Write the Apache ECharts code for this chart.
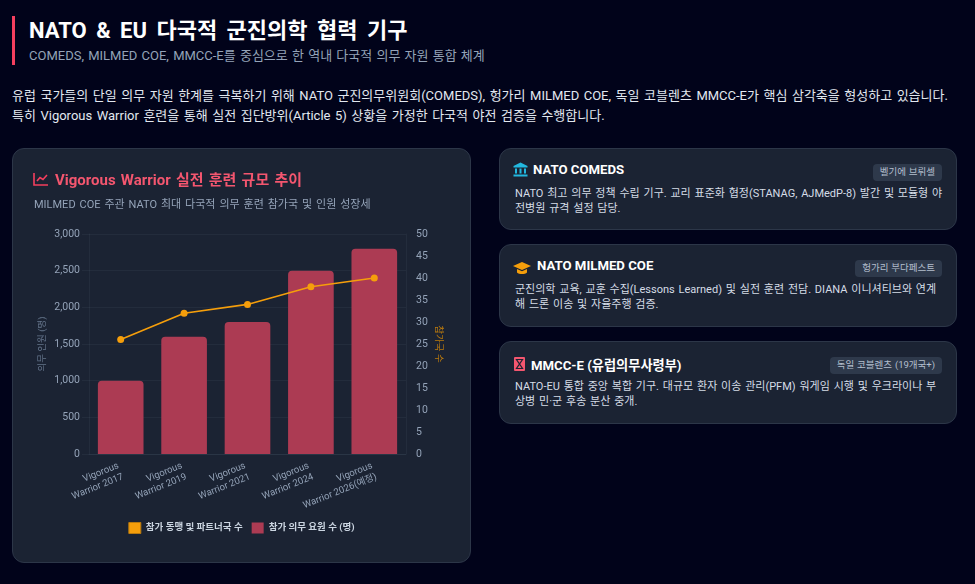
<!DOCTYPE html>
<html lang="ko"><head><meta charset="utf-8">
<script src="https://cdn.jsdelivr.net/npm/echarts@6/dist/echarts.min.js"></script>
<style>
*{box-sizing:border-box;margin:0;padding:0}
html,body{width:975px;height:584px;overflow:hidden;background:#01031a;font-family:Roboto,"Noto Sans CJK KR",sans-serif;color:#e2e8f0}
.abs{position:absolute;white-space:nowrap}
.box{position:absolute;background:#1b2333;border:1px solid #2c3648;border-radius:12px}
.badge{position:absolute;right:14px;height:17px;line-height:16px;background:#2e394b;border-radius:4px;padding:0 7px;font-size:9.5px;color:#b4bfce;white-space:nowrap;word-spacing:.5px}
.ctitle{position:absolute;top:13px;font-size:13.2px;font-weight:700;color:#fff;white-space:nowrap}
.cbody{position:absolute;left:15px;top:38px;font-size:11px;line-height:14.5px;color:#d5dce6;white-space:pre;word-spacing:1.1px}
svg.ic{position:absolute}
#chart{position:absolute;left:12px;top:148px;width:459px;height:415px}
</style></head><body>
<div class="abs" style="left:12px;top:16px;width:3px;height:49px;background:#f43f5e"></div>
<div class="abs" id="title" style="left:29px;top:16px;font-size:22px;line-height:30px;font-weight:700;color:#fff;word-spacing:4px"></div>
<div class="abs" id="sub" style="left:29px;top:46px;font-size:13px;line-height:20px;color:#94a3b8;word-spacing:1px"></div>
<div class="abs" id="p1" style="left:12px;top:86px;font-size:13px;line-height:20px;color:#e2e8f0;word-spacing:1.3px"></div>
<div class="abs" id="p2" style="left:12px;top:106px;font-size:13px;line-height:20px;color:#e2e8f0;word-spacing:1.3px"></div>

<div class="box" style="left:12px;top:148px;width:459px;height:415px"></div>
<div id="chart"></div>
<svg class="ic" style="left:33px;top:172px" width="16" height="14" viewBox="0 0 16 14" fill="none" stroke="#f43f5e" stroke-width="1.6"><path d="M1 1V13H15"/><path d="M4 9L7 5.5L10 7.5L14 3"/></svg>
<div class="abs" id="ctitle" style="left:55px;top:170px;font-size:15px;line-height:20px;font-weight:700;color:#f4566f;word-spacing:1.5px"></div>
<div class="abs" id="csub" style="left:34px;top:197px;font-size:11px;line-height:16px;color:#94a3b8;word-spacing:1.2px"></div>

<div class="box" style="left:499px;top:148px;width:458px;height:82px"><svg class="ic" style="left:13px;top:13px" width="15" height="15" viewBox="0 0 15 15" fill="#22b8e0"><path d="M7.5 0.5L14.5 4V5.5H0.5V4Z"/><rect x="2" y="6.5" width="2" height="5"/><rect x="6.5" y="6.5" width="2" height="5"/><rect x="11" y="6.5" width="2" height="5"/><rect x="0.5" y="12.5" width="14" height="2"/></svg><div class="ctitle" style="left:33px" data-t="0"></div><div class="badge" style="top:15px" data-b="0"></div><div class="cbody" data-d="0"></div></div>
<div class="box" style="left:499px;top:244px;width:458px;height:83px"><svg class="ic" style="left:13px;top:16px" width="18" height="14" viewBox="0 0 18 14" fill="#f59e0b"><path d="M9 1L18 5L9 9L0 5Z"/><path d="M4 8V11.5C6 13.5 12 13.5 14 11.5V8L9 10.2Z"/></svg><div class="ctitle" style="left:37px" data-t="1"></div><div class="badge" style="top:15px" data-b="1"></div><div class="cbody" data-d="1"></div></div>
<div class="box" style="left:499px;top:341px;width:458px;height:83px"><svg class="ic" style="left:14px;top:15px" width="11" height="14" viewBox="0 0 11 14"><rect width="11" height="14" rx="1" fill="#f4566f"/><path d="M2.5 2.5H8.5L2.5 11.5H8.5Z" fill="none" stroke="#1b2333" stroke-width="1.2"/></svg><div class="ctitle" style="left:31px" data-t="2"></div><div class="badge" style="top:15px" data-b="2"></div><div class="cbody" data-d="2"></div></div>

<script>
const categories = ["Vigorous\nWarrior 2017","Vigorous\nWarrior 2019","Vigorous\nWarrior 2021","Vigorous\nWarrior 2024","Vigorous\nWarrior 2026(예정)"];
const personnel = [1000,1600,1800,2500,2800];
const nations = [26,32,34,38,40];
const seriesNames = ["참가 동맹 및 파트너국 수","참가 의무 요원 수 (명)"];
const axisNames = ["의무 인원 (명)","참가국 수"];
const cardTitles = ["NATO COMEDS","NATO MILMED COE","MMCC-E (유럽의무사령부)"];
const cardBadges = ["벨기에 브뤼셀","헝가리 부다페스트","독일 코블렌츠 (19개국+)"];
const cardBodies = [
 "NATO 최고 의무 정책 수립 기구. 교리 표준화 협정(STANAG, AJMedP-8) 발간 및 모듈형 야\n전병원 규격 설정 담당.",
 "군진의학 교육, 교훈 수집(Lessons Learned) 및 실전 훈련 전담. DIANA 이니셔티브와 연계\n해 드론 이송 및 자율주행 검증.",
 "NATO-EU 통합 중앙 복합 기구. 대규모 환자 이송 관리(PFM) 워게임 시행 및 우크라이나 부\n상병 민·군 후송 분산 중개."];
const set=(id,t)=>document.getElementById(id).textContent=t;
set('title',"NATO & EU 다국적 군진의학 협력 기구");
set('sub',"COMEDS, MILMED COE, MMCC-E를 중심으로 한 역내 다국적 의무 자원 통합 체계");
set('p1',"유럽 국가들의 단일 의무 자원 한계를 극복하기 위해 NATO 군진의무위원회(COMEDS), 헝가리 MILMED COE, 독일 코블렌츠 MMCC-E가 핵심 삼각축을 형성하고 있습니다.");
set('p2',"특히 Vigorous Warrior 훈련을 통해 실전 집단방위(Article 5) 상황을 가정한 다국적 야전 검증을 수행합니다.");
set('ctitle',"Vigorous Warrior 실전 훈련 규모 추이");
set('csub',"MILMED COE 주관 NATO 최대 다국적 의무 훈련 참가국 및 인원 성장세");
document.querySelectorAll('[data-t]').forEach(e=>e.textContent=cardTitles[e.dataset.t]);
document.querySelectorAll('[data-b]').forEach(e=>e.textContent=cardBadges[e.dataset.b]);
document.querySelectorAll('[data-d]').forEach(e=>e.textContent=cardBodies[e.dataset.d]);

const FONT='Roboto,"Noto Sans CJK KR",sans-serif';
const faint='rgba(148,163,184,0.07)';
const chart=echarts.init(document.getElementById('chart'));
chart.setOption({
 animation:false,
 textStyle:{fontFamily:FONT},
 grid:{left:77,right:65,top:86,bottom:109},
 legend:{left:'center',top:369,itemWidth:12,itemHeight:11,itemGap:9,
   data:[{name:seriesNames[0],icon:'rect',itemStyle:{color:'#f59e0b',borderColor:'#b9790e',borderWidth:1}},{name:seriesNames[1],icon:'rect'}],
   textStyle:{color:'#cbd5e1',fontSize:9.5,fontWeight:700,fontFamily:FONT}},
 xAxis:{type:'category',data:categories,
   axisLine:{lineStyle:{color:faint}},axisTick:{show:false},
   splitLine:{show:false},
   axisLabel:{color:'#94a3b8',fontSize:9.5,rotate:22,interval:0,margin:17,lineHeight:12,fontFamily:FONT}},
 yAxis:[
  {type:'value',min:0,max:3000,interval:500,name:axisNames[0],nameLocation:'middle',nameGap:42,nameRotate:90,nameMoveOverlap:false,
   nameTextStyle:{color:'#64748b',fontSize:9.5,fontFamily:FONT},
   axisLine:{show:true,lineStyle:{color:faint}},axisTick:{show:true,length:7,lineStyle:{color:faint}},
   axisLabel:{color:'#94a3b8',fontSize:10.5,margin:9,formatter:v=>v.toLocaleString('en-US')},
   splitLine:{lineStyle:{color:faint}}},
  {type:'value',min:0,max:50,interval:5,name:axisNames[1],nameLocation:'middle',nameGap:28,nameRotate:-90,nameMoveOverlap:false,
   nameTextStyle:{color:'#b9790e',fontSize:9.5,fontFamily:FONT},
   axisLine:{show:true,lineStyle:{color:faint}},axisTick:{show:false},
   axisLabel:{color:'#94a3b8',fontSize:10.5,margin:10},
   splitLine:{show:false}}
 ],
 series:[
  {name:seriesNames[0],type:'line',yAxisIndex:1,data:nations,z:5,symbol:'circle',symbolSize:7,
   lineStyle:{color:'#f59e0b',width:1.6},itemStyle:{color:'#f59e0b'}},
  {name:seriesNames[1],type:'bar',yAxisIndex:0,data:personnel,barWidth:'72%',z:2,
   itemStyle:{color:'#ac3b53',borderRadius:[4,4,0,0]}}
 ]
});
</script></body></html>
